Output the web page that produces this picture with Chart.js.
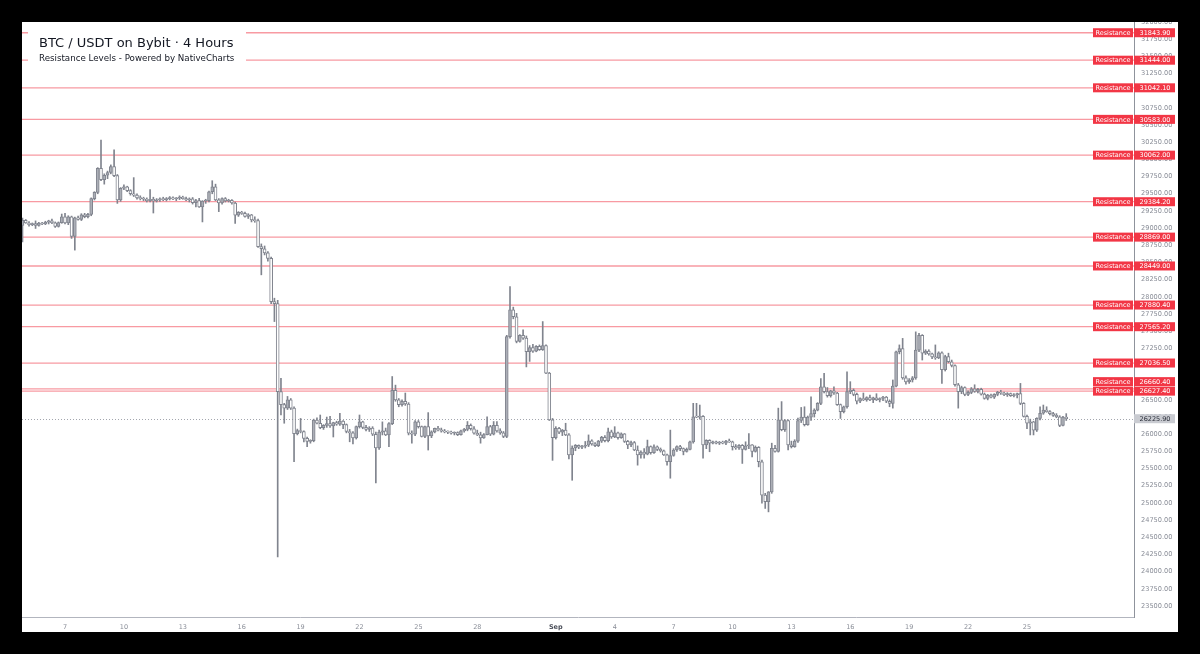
<!DOCTYPE html>
<html>
<head>
<meta charset="utf-8">
<script src="https://cdn.jsdelivr.net/npm/chart.js@4.4.0/dist/chart.umd.min.js"></script>
<style>
  html, body { margin: 0; background: #000; }
  #wrap { position: absolute; left: 22px; top: 22px; width: 1156px; height: 610px; background: #fff; }
</style>
</head>
<body>
<div id="wrap"><canvas id="chart"></canvas></div>
<script>
/* BTC / USDT 4h candles, Aug 4 20:00 -> Sep 27 00:00 (UTC) */
const START = Date.UTC(2023, 7, 4, 20);
const STEP = 4 * 3600 * 1000;

const opens = [
  29040,
  29115, 29075, 29050, 29065, 29040, 29075,   // Aug 5
  29060, 29085, 29105, 29078, 29025, 29080,   // Aug 6
  29165, 29075, 29165, 28880, 29150, 29125,   // Aug 7
  29195, 29165, 29200, 29430, 29520, 29870,   // Aug 8
  29705, 29770, 29810, 29895, 29765, 29410,   // Aug 9
  29580, 29600, 29545, 29500, 29480, 29440,   // Aug 10
  29430, 29420, 29400, 29420, 29395, 29410,   // Aug 11
  29425, 29415, 29430, 29440, 29425, 29435,   // Aug 12
  29450, 29430, 29410, 29425, 29370, 29400,   // Aug 13
  29310, 29395, 29400, 29530, 29600, 29410,   // Aug 14
  29365, 29430, 29395, 29405, 29365, 29190,   // Aug 15
  29230, 29215, 29170, 29195, 29120, 29110,   // Aug 16
  28730, 28700, 28640, 28560, 27930, 27900,   // Aug 17
  26620, 26430, 26380, 26500, 26380, 26010,   // Aug 18
  26055, 26040, 25940, 25895, 25905, 26205,   // Aug 19
  26160, 26095, 26130, 26155, 26120, 26170,   // Aug 20
  26145, 26190, 26140, 26040, 26020, 25945,   // Aug 21
  26110, 26180, 26100, 26070, 26090, 26000,   // Aug 22
  25800, 26030, 26050, 25990, 26155, 26640,   // Aug 23
  26500, 26430, 26480, 26440, 26015, 26000,   // Aug 24
  26180, 26110, 25970, 26110, 25975, 26035,   // Aug 25
  26085, 26065, 26045, 26035, 26030, 26015,   // Aug 26
  26025, 25995, 26050, 26070, 26130, 26080,   // Aug 27
  26015, 25990, 25945, 25995, 26110, 26000,   // Aug 28
  26130, 26050, 26020, 25970, 27420, 27810,   // Aug 29
  27710, 27350, 27440, 27400, 27200, 27260,   // Aug 30
  27210, 27280, 27230, 27290, 26890, 26210,   // Aug 31
  25950, 26085, 26030, 26060, 25990, 25700,   // Sep 1
  25800, 25840, 25810, 25825, 25840, 25905,   // Sep 2
  25860, 25835, 25900, 25955, 25905, 26035,   // Sep 3
  25960, 26020, 25950, 26005, 25895, 25845,   // Sep 4
  25880, 25770, 25700, 25740, 25710, 25820,   // Sep 5
  25730, 25815, 25780, 25760, 25700, 25600,   // Sep 6
  25690, 25770, 25820, 25790, 25750, 25780,   // Sep 7
  25890, 26255, 26250, 26260, 25845, 25910,   // Sep 8
  25870, 25890, 25870, 25880, 25870, 25900,   // Sep 9
  25890, 25820, 25800, 25840, 25780, 25830,   // Sep 10
  25845, 25750, 25810, 25600, 25115, 25020,   // Sep 11
  25160, 25795, 25750, 26210, 26065, 26200,   // Sep 12
  25845, 25820, 25900, 26200, 26250, 26140,   // Sep 13
  26250, 26300, 26350, 26450, 26690, 26620,   // Sep 14
  26560, 26630, 26600, 26430, 26330, 26400,   // Sep 15
  26620, 26640, 26580, 26480, 26520, 26500,   // Sep 16
  26535, 26500, 26530, 26500, 26520, 26540,   // Sep 17
  26480, 26450, 26700, 27200, 27245, 26820,   // Sep 18
  26760, 26790, 26820, 27225, 27440, 27180,   // Sep 19
  27210, 27170, 27125, 27110, 27185, 26940,   // Sep 20
  27130, 27055, 27000, 26720, 26620, 26680,   // Sep 21
  26580, 26610, 26660, 26625, 26655, 26585,   // Sep 22
  26520, 26570, 26540, 26580, 26615, 26600,   // Sep 23
  26575, 26590, 26560, 26575, 26590, 26450,   // Sep 24
  26260, 26160, 26180, 26060, 26230, 26305,   // Sep 25
  26350, 26330, 26300, 26275, 26255, 26130,   // Sep 26
  26250
];

const highs = [
  29145,
  29125, 29095, 29075, 29105, 29085, 29085,
  29100, 29115, 29130, 29090, 29090, 29205,
  29215, 29180, 29175, 29160, 29175, 29210,
  29215, 29215, 29440, 29530, 29880, 30280,
  29790, 29830, 29920, 30140, 29780, 29590,
  29630, 29610, 29560, 29735, 29500, 29470,
  29450, 29440, 29560, 29450, 29430, 29440,
  29450, 29445, 29460, 29455, 29445, 29470,
  29465, 29450, 29440, 29445, 29420, 29435,
  29400, 29420, 29540, 29690, 29640, 29430,
  29440, 29445, 29420, 29415, 29380, 29240,
  29245, 29235, 29210, 29200, 29165, 29130,
  28770, 28740, 28660, 28580, 27980, 27950,
  26815, 26450, 26550, 26520, 26400, 26075,
  26230, 26050, 25960, 25920, 26220, 26240,
  26280, 26140, 26250, 26260, 26175, 26190,
  26305, 26200, 26150, 26070, 26040, 26120,
  26280, 26190, 26130, 26110, 26110, 26030,
  26060, 26180, 26090, 26170, 26840, 26715,
  26520, 26500, 26600, 26460, 26050, 26200,
  26200, 26120, 26120, 26315, 26050, 26090,
  26115, 26090, 26070, 26050, 26045, 26035,
  26035, 26060, 26085, 26185, 26150, 26110,
  26060, 26030, 26010, 26255, 26130, 26185,
  26185, 26080, 26040, 27440, 28150, 27850,
  27760, 27450, 27520, 27430, 27290, 27310,
  27290, 27300, 27640, 27300, 26900, 26230,
  26110, 26100, 26070, 26160, 26010, 25830,
  25850, 25845, 25840, 25895, 25990, 25920,
  25880, 25910, 25970, 25980, 26090, 26060,
  26110, 26030, 26020, 26010, 25910, 25900,
  25895, 25830, 25760, 25790, 25915, 25830,
  25845, 25830, 25800, 25770, 25710, 26060,
  25790, 25830, 25840, 25800, 25800, 25900,
  26450, 26450, 26425, 26270, 25920, 25920,
  25900, 25900, 25895, 25900, 25910, 25930,
  25900, 25850, 25850, 25850, 25890, 26010,
  25850, 25830, 25820, 25625, 25140, 25165,
  25870, 25840, 26380, 26475, 26215, 26210,
  25900, 25920, 26235, 26390, 26400, 26265,
  26545, 26370, 26460, 26810, 26885, 26680,
  26640, 26690, 26610, 26440, 26410, 26910,
  26765, 26660, 26600, 26530, 26600, 26545,
  26570, 26540, 26590, 26530, 26550, 26550,
  26500, 26790, 27210, 27300, 27395, 26850,
  26810, 26840, 27490, 27470, 27450, 27230,
  27230, 27180, 27300, 27200, 27200, 27150,
  27180, 27080, 27010, 26740, 26700, 26690,
  26630, 26680, 26720, 26670, 26670, 26600,
  26580, 26585, 26590, 26625, 26640, 26615,
  26605, 26600, 26590, 26600, 26740, 26460,
  26280, 26220, 26190, 26240, 26400, 26425,
  26400, 26345, 26320, 26300, 26270, 26260,
  26300
];

const lows = [
  28800,
  29070, 29030, 29035, 28995, 29030, 29050,
  29050, 29060, 29065, 29010, 29015, 29070,
  29060, 29050, 28850, 28680, 29115, 29110,
  29150, 29150, 29180, 29410, 29500, 29690,
  29640, 29720, 29790, 29750, 29360, 29390,
  29560, 29530, 29480, 29460, 29420, 29410,
  29400, 29380, 29380, 29220, 29380, 29390,
  29400, 29395, 29410, 29415, 29400, 29415,
  29420, 29400, 29380, 29350, 29310, 29300,
  29090, 29360, 29380, 29500, 29400, 29240,
  29350, 29380, 29380, 29350, 29070, 29170,
  29200, 29160, 29140, 29090, 29085, 28720,
  28320, 28610, 28520, 27900, 27640, 24215,
  26280, 26160, 26360, 26360, 25600, 25990,
  26020, 25890, 25820, 25870, 25890, 26150,
  26080, 26070, 26100, 26100, 25960, 26130,
  26130, 26080, 26020, 25890, 25860, 25930,
  26090, 26080, 26050, 26040, 25980, 25290,
  25780, 25990, 25980, 25820, 26140, 26480,
  26400, 26410, 26420, 25990, 25870, 25980,
  26090, 25960, 25950, 25770, 25950, 26020,
  26050, 26030, 26020, 26010, 26000, 25990,
  25980, 25985, 26030, 26050, 26060, 26000,
  25980, 25870, 25940, 25990, 25980, 25990,
  26030, 26000, 25950, 25950, 27400, 27680,
  27330, 27340, 27380, 26980, 27060, 27190,
  27200, 27220, 27220, 26880, 26200, 25620,
  25930, 26010, 25980, 25980, 25640, 25330,
  25760, 25790, 25790, 25800, 25820, 25840,
  25820, 25820, 25880, 25890, 25890, 25940,
  25950, 25930, 25940, 25880, 25790, 25820,
  25760, 25550, 25650, 25650, 25700, 25710,
  25720, 25760, 25740, 25690, 25550, 25360,
  25680, 25750, 25760, 25700, 25740, 25770,
  25870, 26240, 26220, 25650, 25790, 25745,
  25860, 25860, 25850, 25860, 25850, 25880,
  25770, 25780, 25780, 25575, 25770, 25790,
  25670, 25740, 25525, 24995, 24920, 24870,
  25140, 25740, 25740, 26050, 26040, 25770,
  25800, 25810, 25880, 26170, 26120, 26130,
  26200, 26250, 26340, 26430, 26600, 26540,
  26540, 26580, 26420, 26230, 26310, 26380,
  26590, 26560, 26440, 26460, 26490, 26480,
  26490, 26460, 26490, 26470, 26490, 26460,
  26400, 26380, 26690, 27170, 26800, 26730,
  26740, 26760, 26800, 27200, 27080, 27160,
  27150, 27100, 27090, 27100, 26740, 26920,
  27040, 26980, 26700, 26380, 26590, 26560,
  26560, 26590, 26610, 26600, 26570, 26510,
  26500, 26530, 26520, 26560, 26580, 26560,
  26550, 26550, 26545, 26530, 26430, 26250,
  26080, 25990, 25990, 26040, 26210, 26290,
  26320, 26280, 26260, 26240, 26110, 26120,
  26200
];

const closes = [
  29115,
  29075, 29050, 29065, 29040, 29075, 29060,
  29085, 29105, 29078, 29025, 29080, 29165,
  29075, 29165, 28880, 29150, 29125, 29195,
  29165, 29200, 29430, 29520, 29870, 29705,
  29770, 29810, 29895, 29765, 29410, 29580,
  29600, 29545, 29500, 29480, 29440, 29430,
  29420, 29400, 29420, 29395, 29410, 29425,
  29415, 29430, 29440, 29425, 29435, 29450,
  29430, 29410, 29425, 29370, 29400, 29310,
  29395, 29400, 29530, 29600, 29410, 29365,
  29430, 29395, 29405, 29365, 29190, 29230,
  29215, 29170, 29195, 29120, 29110, 28730,
  28700, 28640, 28560, 27930, 27900, 26620,
  26430, 26380, 26500, 26380, 26010, 26055,
  26040, 25940, 25895, 25905, 26205, 26160,
  26095, 26130, 26155, 26120, 26170, 26145,
  26190, 26140, 26040, 26020, 25945, 26110,
  26180, 26100, 26070, 26090, 26000, 25800,
  26030, 26050, 25990, 26155, 26640, 26500,
  26430, 26480, 26440, 26015, 26000, 26180,
  26110, 25970, 26110, 25975, 26035, 26085,
  26065, 26045, 26035, 26030, 26015, 26025,
  25995, 26050, 26070, 26130, 26080, 26015,
  25990, 25945, 25995, 26110, 26000, 26130,
  26050, 26020, 25970, 27420, 27810, 27710,
  27350, 27440, 27400, 27200, 27260, 27210,
  27280, 27230, 27290, 26890, 26210, 25950,
  26085, 26030, 26060, 25990, 25700, 25800,
  25840, 25810, 25825, 25840, 25905, 25860,
  25835, 25900, 25955, 25905, 26035, 25960,
  26020, 25950, 26005, 25895, 25845, 25880,
  25770, 25700, 25740, 25710, 25820, 25730,
  25815, 25780, 25760, 25700, 25600, 25690,
  25770, 25820, 25790, 25750, 25780, 25890,
  26255, 26250, 26260, 25845, 25910, 25870,
  25890, 25870, 25880, 25870, 25900, 25890,
  25820, 25800, 25840, 25780, 25830, 25845,
  25750, 25810, 25600, 25115, 25020, 25160,
  25795, 25750, 26210, 26065, 26200, 25845,
  25820, 25900, 26200, 26250, 26140, 26250,
  26300, 26350, 26450, 26690, 26620, 26560,
  26630, 26600, 26430, 26330, 26400, 26620,
  26640, 26580, 26480, 26520, 26500, 26535,
  26500, 26530, 26500, 26520, 26540, 26480,
  26450, 26700, 27200, 27245, 26820, 26760,
  26790, 26820, 27225, 27440, 27180, 27210,
  27170, 27125, 27110, 27185, 26940, 27130,
  27055, 27000, 26720, 26620, 26680, 26580,
  26610, 26660, 26625, 26655, 26585, 26520,
  26570, 26540, 26580, 26615, 26600, 26575,
  26590, 26560, 26575, 26590, 26450, 26260,
  26160, 26180, 26060, 26230, 26305, 26350,
  26330, 26300, 26275, 26255, 26130, 26250,
  26225.9
];

const levels = [31843.9, 31444.0, 31042.1, 30583.0, 30062.0, 29384.2, 28869.0,
                28449.0, 27880.4, 27565.2, 27036.5, 26660.4, 26627.4];
const lastPrice = 26225.9;

const xTickDates  = ['2023-08-07','2023-08-10','2023-08-13','2023-08-16','2023-08-19','2023-08-22',
                     '2023-08-25','2023-08-28','2023-09-01','2023-09-04','2023-09-07','2023-09-10',
                     '2023-09-13','2023-09-16','2023-09-19','2023-09-22','2023-09-25'];
const xTickLabels = ['7','10','13','16','19','22','25','28','Sep','4','7','10','13','16','19','22','25'];

const viewStart = Date.UTC(2023, 7, 4, 19, 25);
const viewEnd   = Date.UTC(2023, 8, 30, 10, 50);
const yMin = 23340, yMax = 32000, yStep = 250;

/* ── helpers ───────────────────────────────────────────────── */
const FONT = '"DejaVu Sans", "Noto Sans", sans-serif';
const toIdx = t => (t - START) / STEP;
const tickIdx = xTickDates.map(d => toIdx(Date.parse(d + 'T00:00:00Z')));

const UP_FILL = '#acafb7', DOWN_FILL = '#ffffff', EDGE = '#80848e';
const RED = '#f23645';

const wicks  = closes.map((c, i) => ({ x: i, y: [lows[i], highs[i]] }));
const bodies = closes.map((c, i) => ({ x: i, y: [opens[i], c] }));
const bodyColors = closes.map((c, i) => c >= opens[i] ? UP_FILL : DOWN_FILL);

/* ── overlay: resistance lines, last price, title, labels ──── */
const overlay = {
  id: 'overlay',
  beforeDatasetsDraw(chart) {
    const { ctx, chartArea: a, scales: { y } } = chart;
    ctx.save();
    ctx.strokeStyle = 'rgba(242,54,69,0.5)';
    ctx.lineWidth = 1.3;
    levels.forEach(v => {
      const py = y.getPixelForValue(v);
      ctx.beginPath(); ctx.moveTo(a.left, py); ctx.lineTo(a.right, py); ctx.stroke();
    });
    const lp = Math.round(y.getPixelForValue(lastPrice)) + 0.5;
    ctx.strokeStyle = '#a3a6ae';
    ctx.lineWidth = 1;
    ctx.setLineDash([1, 2]);
    ctx.beginPath(); ctx.moveTo(a.left, lp); ctx.lineTo(a.right, lp); ctx.stroke();
    ctx.restore();
  },
  afterDatasetsDraw(chart) {
    const { ctx, chartArea: a } = chart;
    ctx.save();
    ctx.fillStyle = '#fff';
    ctx.fillRect(a.left + 6, a.top + 4, 218, 48);
    ctx.fillStyle = '#131722';
    ctx.textBaseline = 'middle';
    ctx.font = `13px ${FONT}`;
    ctx.fillText('BTC / USDT on Bybit · 4 Hours', a.left + 17, a.top + 22);
    ctx.font = `8.7px ${FONT}`;
    ctx.fillText('Resistance Levels - Powered by NativeCharts', a.left + 17, a.top + 37);
    ctx.restore();
  },
  afterDraw(chart) {
    const { ctx, chartArea: a, scales: { y } } = chart;
    const h = 9, gap = 9.5;
    const placed = levels.map(v => ({ v, py: y.getPixelForValue(v) }))
                         .sort((p, q) => q.py - p.py);
    for (let k = 1; k < placed.length; k++) {
      if (placed[k - 1].py - placed[k].py < gap) placed[k].py = placed[k - 1].py - gap;
    }
    ctx.save();
    ctx.font = `6.5px ${FONT}`;
    ctx.textAlign = 'center';
    ctx.textBaseline = 'middle';
    placed.forEach(p => {
      ctx.fillStyle = RED;
      ctx.fillRect(a.right - 41, p.py - h / 2, 40, h);
      ctx.fillRect(a.right, p.py - h / 2, 41, h);
      ctx.fillStyle = '#fff';
      ctx.fillText('Resistance', a.right - 21, p.py + 0.5);
      ctx.fillText(p.v.toFixed(2), a.right + 21, p.py + 0.5);
    });
    const lp = y.getPixelForValue(lastPrice);
    ctx.fillStyle = '#c9cbd1';
    ctx.fillRect(a.right, lp - h / 2, 41, h);
    ctx.fillStyle = '#2a2e39';
    ctx.fillText(lastPrice.toFixed(2), a.right + 21, lp + 0.5);
    ctx.restore();
  }
};

/* ── chart ─────────────────────────────────────────────────── */
new Chart(document.getElementById('chart'), {
  type: 'bar',
  data: {
    datasets: [
      { data: wicks, backgroundColor: EDGE, barThickness: 1, grouped: false, order: 2 },
      { data: bodies, backgroundColor: bodyColors, borderColor: EDGE, borderWidth: 1,
        borderSkipped: false, barThickness: 3, minBarLength: 1, grouped: false, order: 1 }
    ]
  },
  options: {
    responsive: true,
    maintainAspectRatio: false,
    animation: false,
    layout: { padding: 0, autoPadding: false },
    plugins: { legend: { display: false }, tooltip: { enabled: false } },
    scales: {
      x: {
        type: 'linear',
        offset: false,
        min: toIdx(viewStart),
        max: toIdx(viewEnd),
        grid: { display: false, drawTicks: false },
        border: { color: '#b2b5be' },
        afterBuildTicks: s => { s.ticks = tickIdx.map(v => ({ value: v })); },
        afterFit: s => { s.height = 15; s.paddingLeft = 0; s.paddingRight = 0; },
        ticks: {
          autoSkip: false, maxRotation: 0, padding: 6,
          callback: (v, i) => xTickLabels[i],
          color: c => xTickLabels[c.index] === 'Sep' ? '#4a4e59' : '#8a8e98',
          font: c => ({ family: FONT, size: 6.5, weight: xTickLabels[c.index] === 'Sep' ? 'bold' : 'normal' })
        }
      },
      y: {
        position: 'right',
        min: yMin,
        max: yMax,
        grid: { display: false, drawTicks: false },
        border: { color: '#8f939c' },
        afterBuildTicks: s => {
          const t = [];
          for (let v = Math.ceil(yMin / yStep) * yStep; v <= yMax; v += yStep) t.push({ value: v });
          s.ticks = t;
        },
        afterFit: s => { s.width = 44; s.paddingTop = 0; s.paddingBottom = 0; },
        ticks: {
          padding: 7, color: '#8a8e98',
          font: { family: FONT, size: 6.6 },
          callback: v => v.toFixed(2)
        }
      }
    }
  },
  plugins: [overlay]
});
</script>
</body>
</html>
